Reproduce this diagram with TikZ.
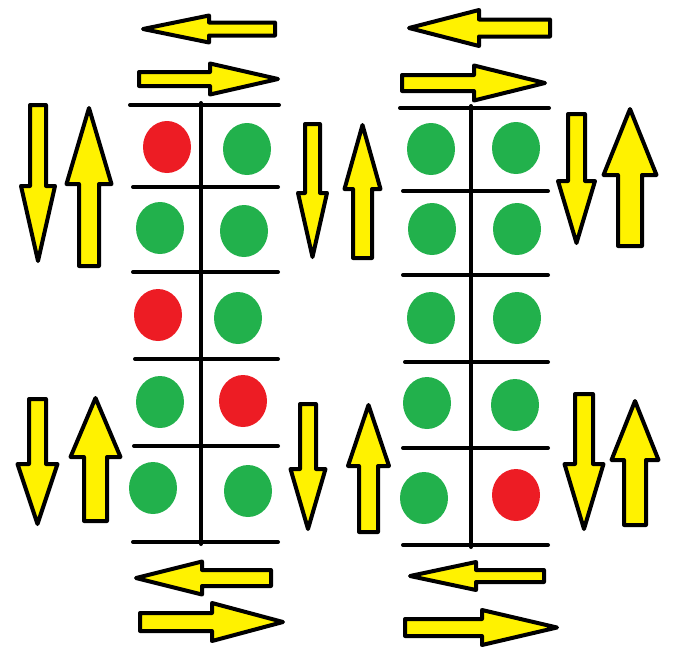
\documentclass[tikz,border=0pt]{standalone}
\usepackage{xcolor}
\definecolor{pyellow}{HTML}{FFF200}
\definecolor{pred}{HTML}{ED1C24}
\definecolor{pgreen}{HTML}{22B14C}
\tikzset{
  arr/.style={draw=black, fill=pyellow, line width=4pt, line join=round},
  gridline/.style={draw=black, line width=4pt, line cap=round},
  rdot/.style={fill=pred},
  gdot/.style={fill=pgreen}
}
% cx, tail y, headbase y, tip y, shaft half, head half
\newcommand\vArrow[6]{\draw[arr] (#1-#5,#2) -- (#1-#5,#3) -- (#1-#6,#3) -- (#1,#4) -- (#1+#6,#3) -- (#1+#5,#3) -- (#1+#5,#2) -- cycle;}
% cy, tail x, headbase x, tip x, shaft half, head half
\newcommand\hArrow[6]{\draw[arr] (#2,#1-#5) -- (#3,#1-#5) -- (#3,#1-#6) -- (#4,#1) -- (#3,#1+#6) -- (#3,#1+#5) -- (#2,#1+#5) -- cycle;}
\newcommand\dotat[3]{\fill[#1] (#2,#3) ellipse [x radius=24, y radius=26];}
\begin{document}
\begin{tikzpicture}[x=1pt,y=-1pt]
\useasboundingbox (0,0) rectangle (688,651);
% ---- left grid ----
\foreach \yy/\xa/\xb in {105/130/279,187/133/278,272/133/278,359/135/278,446/134/278,542/133/278}
  \draw[gridline] (\xa,\yy) -- (\xb,\yy);
\draw[gridline] (201,103) -- (201,544);
\dotat{rdot}{167}{147} \dotat{gdot}{247}{149}
\dotat{gdot}{160}{228} \dotat{gdot}{244}{231}
\dotat{rdot}{158}{315} \dotat{gdot}{238}{318}
\dotat{gdot}{160}{402} \dotat{rdot}{243}{401}
\dotat{gdot}{153}{488} \dotat{gdot}{248}{491}
% ---- right grid ----
\foreach \yy/\xa/\xb in {108/400/549,191/403/548,275/403/548,362/405/548,448/403/548,545/403/548}
  \draw[gridline] (\xa,\yy) -- (\xb,\yy);
\draw[gridline] (471,106) -- (471,547);
\dotat{gdot}{431}{149} \dotat{gdot}{516}{148}
\dotat{gdot}{432}{229} \dotat{gdot}{517}{229}
\dotat{gdot}{431}{318} \dotat{gdot}{517}{318}
\dotat{gdot}{427}{403} \dotat{gdot}{515}{405}
\dotat{gdot}{424}{498} \dotat{rdot}{516}{495}
% ---- horizontal arrows, left grid ----
\hArrow{29}{275}{209}{143}{6.5}{13.5}
\hArrow{79}{139}{210}{278}{7}{15.5}
\hArrow{578}{271}{202}{136}{8}{16.5}
\hArrow{622}{140}{212}{283}{9}{19}
% ---- horizontal arrows, right grid ----
\hArrow{28}{550}{479}{409}{8.5}{18}
\hArrow{83}{402}{474}{545}{8}{17.5}
\hArrow{576}{544}{476}{410}{6}{14}
\hArrow{627.5}{405}{482}{557}{8.5}{17.5}
% ---- vertical arrows, top row ----
\vArrow{38}{105}{186}{261}{8}{17}
\vArrow{89}{266}{184}{108}{10}{22.5}
\vArrow{312.5}{124}{193}{257}{7.5}{14.5}
\vArrow{362.5}{258}{189}{125}{9.5}{18}
\vArrow{576.5}{114}{181}{243}{8.5}{18.5}
\vArrow{630}{246}{175}{109}{12}{26.5}
% ---- vertical arrows, bottom row ----
\vArrow{37.5}{399}{464}{524}{8.5}{20}
\vArrow{95.5}{521}{457}{398}{11.5}{25}
\vArrow{308}{404}{469}{529}{8}{17.5}
\vArrow{368.5}{532}{466}{405}{9.5}{20.5}
\vArrow{584}{394}{464}{529}{9}{19.5}
\vArrow{635}{525}{460}{401}{11}{23.5}
\end{tikzpicture}
\end{document}
